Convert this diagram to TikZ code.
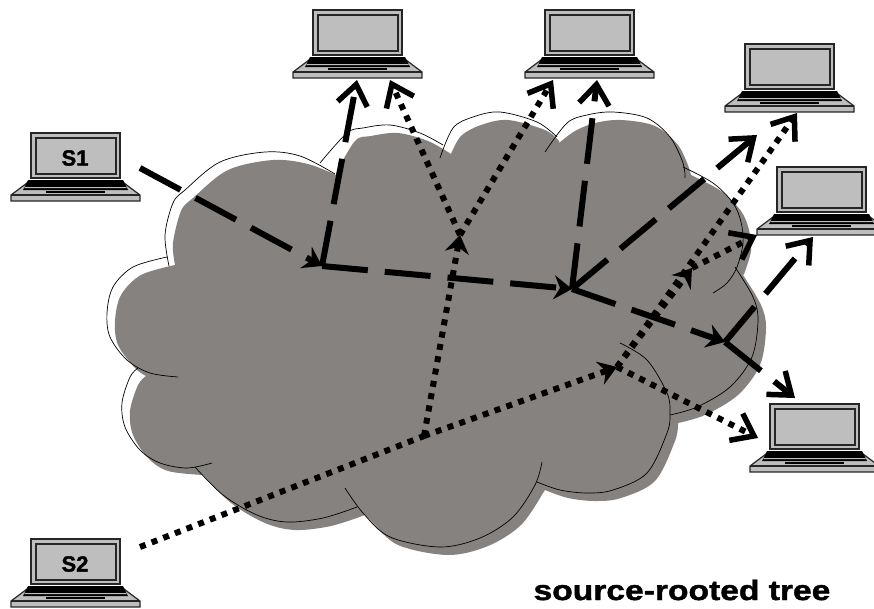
\documentclass[tikz,border=0pt]{standalone}
\usepackage{fontspec}
\usepackage{tikz}
\usetikzlibrary{arrows.meta}
\newfontfamily\heavyfont[FakeBold=1.5,FakeStretch=1.2]{Liberation Sans Bold}
\newfontfamily\hostfont[FakeBold=1.5]{Liberation Sans Bold}
\definecolor{cloudgray}{HTML}{86827F}
\definecolor{lidgray}{HTML}{BEBEBE}
\tikzset{
  laptopline/.style={draw=black!85,line width=1.2pt},
  unicast/.style={line width=6pt,dash pattern=on 46pt off 17pt},
  multicast/.style={line width=6pt,dash pattern=on 6pt off 6.5pt},
  bighead/.style={-{Straight Barb[length=20pt,width=30pt,line width=5.5pt]}},
  smallhead/.style={-{Stealth[length=18pt,width=24pt,inset=6pt]}},
  lobe/.style={draw=black,line width=0.7pt,smooth,tension=0.55},
  hostlabel/.style={font=\hostfont\fontsize{22}{22}\selectfont,inner sep=0pt},
  laptop/.pic={
    \fill[lidgray,laptopline] (-20,62) -- (-4,50) -- (93,50) -- (109,62) -- (109,68) -- (-20,68) -- cycle;
    \draw[laptopline] (-20,62) -- (109,62);
    \fill[black] (-3,47) -- (92,47) -- (97,57) -- (-8,57) -- cycle;
    \fill[lidgray] (-6,54) -- (95,54) -- (96,55) -- (-7,55) -- cycle;
    \fill[black] (15,58) rectangle (74,60);
    \fill[lidgray,laptopline] (0,0) rectangle (89,45);
    \draw[laptopline] (5,5) rectangle (85,41);
  }
}
\begin{document}
\begin{tikzpicture}[x=1pt,y=-1pt]
  \useasboundingbox (0,0) rectangle (874,608);
  \clip (0,0) rectangle (874,608);
  % the cloud, gray part
  \fill[cloudgray,shift={(8,8)},smooth,tension=0.55]
    plot coordinates {(167,257) (165,235) (173,203) (185,190) (220,162) (265,152) (300,156) (328,167)}
    -- plot coordinates {(328,165) (347,133) (363,128) (390,125) (420,133) (443,146)}
    -- plot coordinates {(443,146) (453,128) (473,117) (500,112) (537,122) (551,133)}
    -- plot coordinates {(551,135) (567,123) (587,115) (613,112) (647,118) (670,137) (681,160)}
    -- plot coordinates {(683,167) (713,183) (733,203) (741,222) (743,243) (736,266)}
    -- plot coordinates {(735,267) (753,297) (758,320) (752,357) (730,387) (697,407) (670,415)}
    -- plot coordinates {(670,415) (667,433) (647,473) (613,490) (587,493) (560,490) (537,482)}
    -- plot coordinates {(535,485) (513,517) (480,538) (440,547) (390,537) (363,513) (357,507)}
    -- plot coordinates {(357,507) (323,518) (287,522) (257,515) (223,495) (195,467)}
    -- plot coordinates {(195,467) (160,463) (140,450) (125,427) (122,403) (130,377) (138,368)}
    -- plot coordinates {(138,368) (127,360) (110,337) (107,313) (113,287) (133,267) (167,257)}
    -- cycle;
  % the cloud, thin outline
  \draw[lobe] plot coordinates {(169,266) (165,235) (173,203) (185,190) (220,162) (265,152) (300,156) (335,174)};
  \draw[lobe] plot coordinates {(320,163) (347,133) (363,128) (390,125) (420,133) (443,145)};
  \draw[lobe] plot coordinates {(440,158) (453,128) (473,117) (500,112) (537,122) (557,137)};
  \draw[lobe] plot coordinates {(545,152) (567,123) (587,115) (613,112) (647,118) (670,137) (683,163) (685,178)};
  \draw[lobe] plot coordinates {(683,167) (713,183) (733,203) (741,222) (743,243) (737,267) (727,283) (713,293)};
  \draw[lobe] plot coordinates {(735,267) (753,297) (758,320) (752,357) (730,387) (697,407) (670,415)};
  \draw[lobe] plot coordinates {(620,343) (647,360) (667,393) (670,413) (667,433) (647,473) (613,490) (587,493) (560,490) (537,482)};
  \draw[lobe] plot coordinates {(542,462) (535,485) (513,517) (480,538) (440,547) (390,537) (363,513) (345,488)};
  \draw[lobe] plot coordinates {(357,507) (323,518) (287,522) (257,515) (223,495) (195,467)};
  \draw[lobe] plot coordinates {(212,463) (187,468) (160,463) (140,450) (125,427) (122,403) (130,377) (138,368)};
  \draw[lobe] plot coordinates {(178,377) (150,373) (127,360) (110,337) (107,313) (113,287) (133,267) (167,257)};
  % laptops
  \foreach \n/\x/\y in {hostsa/31/133, hostsb/31/539, hosta/313/10, hostb/545/10,
                        hostc/745/44, hostd/777/167, hoste/770/404} {
    \pic (\n) at (\x,\y) {laptop};
  }
  \node[hostlabel] (labelsa) at (75,158) {S1};
  \node[hostlabel] (labelsb) at (75,564) {S2};
  \node[font=\heavyfont\fontsize{28}{28}\selectfont,inner sep=0pt] (title) at (682,590) {source-rooted tree};
  % branch points and arrow ends
  \coordinate (sa) at (140,168);
  \coordinate (ja) at (322,266);
  \coordinate (jb) at (572,289);
  \coordinate (jc) at (725,342);
  \coordinate (ta) at (357,80);
  \coordinate (tb) at (597,80);
  \coordinate (tc) at (757,135);
  \coordinate (td) at (813,237);
  \coordinate (te) at (795,398);
  \coordinate (sb) at (140,547);
  \coordinate (jd) at (424,436);
  \coordinate (je) at (460,235);
  \coordinate (jf) at (617,367);
  \coordinate (jg) at (692,268);
  \coordinate (tf) at (390,80);
  \coordinate (tg) at (553,80);
  \coordinate (th) at (797,113);
  \coordinate (ti) at (757,235);
  \coordinate (tj) at (758,438);
  % first source
  \foreach \a/\b in {sa/ja, ja/jb, jb/jc} {
    \draw[unicast,smallhead] (\a) -- (\b);
  }
  \foreach \a/\b in {ja/ta, jb/tb, jb/tc, jc/td, jc/te} {
    \draw[unicast,bighead] (\a) -- (\b);
  }
  % second source
  \draw[multicast] (sb) -- (jd);
  \foreach \a/\b in {jd/je, jd/jf, jf/jg} {
    \draw[multicast,smallhead] (\a) -- (\b);
  }
  \foreach \a/\b in {je/tf, je/tg, jf/th, jg/ti, jf/tj} {
    \draw[multicast,bighead] (\a) -- (\b);
  }
\end{tikzpicture}
\end{document}
